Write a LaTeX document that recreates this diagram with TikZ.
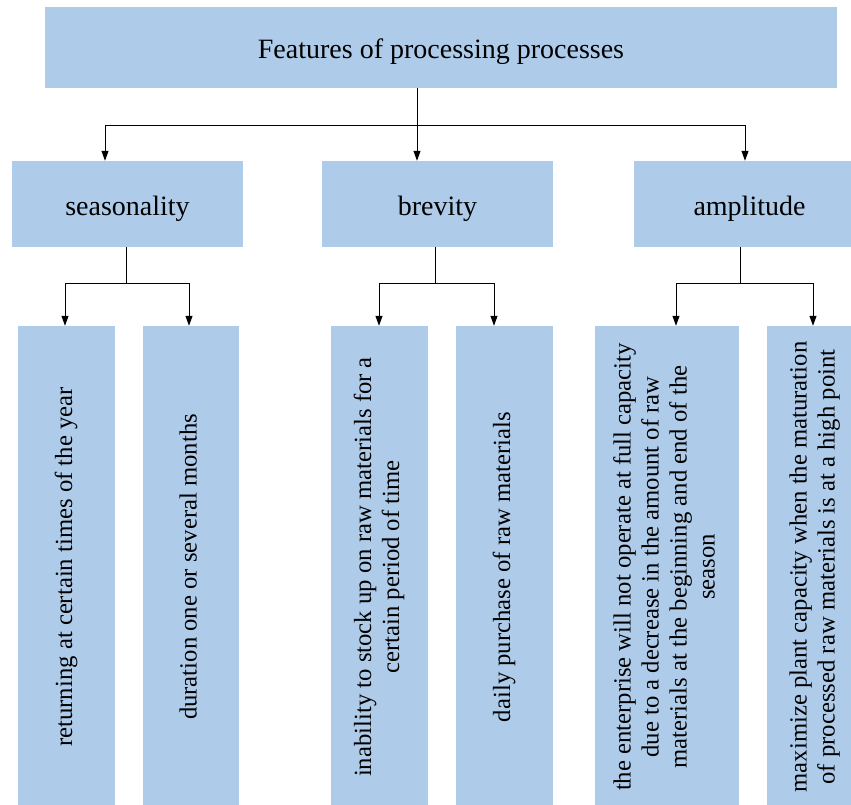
\documentclass[tikz,border=0pt]{standalone}
\usepackage{fontspec}
\usepackage{graphicx}
\setmainfont{LiberationSerif}[Extension=.ttf, UprightFont=*-Regular, BoldFont=*-Bold]
\usetikzlibrary{arrows.meta,calc}
\definecolor{boxblue}{RGB}{174,204,234}
\newcommand{\uptext}[1]{\rotatebox{90}{\begin{tabular}{@{}c@{}}#1\end{tabular}}}

\begin{document}
\begin{tikzpicture}[x=1pt, y=-1pt, >={Triangle[width=7pt,length=10pt]},
    box/.style={fill=boxblue, inner sep=0pt, text height=22pt, text depth=0pt, font=\fontsize{28}{32}\selectfont},
    leaf/.style={fill=boxblue, inner sep=0pt, minimum height=482pt, font=\fontsize{24.7}{28}\selectfont},
    link/.style={line width=1pt, black}]
    \useasboundingbox (0,0) rectangle (851,805);
    \clip (0,0) rectangle (851,805);

    % Main box
    \node[box, minimum width=792pt, minimum height=81pt] (top) at (441,47.5) {Features of processing processes};

    % Feature boxes
    \node[box, minimum width=231pt, minimum height=86pt] (seas) at (127.5,204) {seasonality};
    \node[box, minimum width=231pt, minimum height=86pt] (brev) at (437.5,204) {brevity};
    \node[box, minimum width=231pt, minimum height=86pt] (ampl) at (749.5,204) {amplitude};

    % Detail boxes
    \node[leaf, minimum width=97pt] (l1) at (66.5,567) {\uptext{returning at certain times of the year}};
    \node[leaf, minimum width=96pt] (l2) at (191,567) {\uptext{duration one or several months}};
    \node[leaf, minimum width=97pt] (l3) at (379.5,567) {\uptext{inability to stock up on raw materials for a\\certain period of time}};
    \node[leaf, minimum width=97pt] (l4) at (504.5,567) {\uptext{daily purchase of raw materials}};
    \node[leaf, minimum width=144pt] (l5) at (667,567) {\uptext{the enterprise will not operate at full capacity\\due to a decrease in the amount of raw\\materials at the beginning and end of the\\season}};
    \node[leaf, minimum width=96pt] (l6) at (815,567) {\uptext{maximize plant capacity when the maturation\\of processed raw materials is at a high point}};

    % Top level connectors
    \coordinate (hub) at (417,126);
    \draw[link] (top.south -| hub) -- (hub);
    \draw[link, ->] (hub) -- (hub |- brev.north);
    \draw[link, ->] (hub) -| ([xshift=-22.5pt]seas.north);
    \draw[link, ->] (hub) -| ([xshift=-4.5pt]ampl.north);

    % Second level connectors
    \coordinate (sj) at (126,283);
    \draw[link] (seas.south -| sj) -- (sj);
    \draw[link, ->] (sj) -| ([xshift=-1.5pt]l1.north);
    \draw[link, ->] (sj) -| ([xshift=-2pt]l2.north);

    \coordinate (bj) at (435,283);
    \draw[link] (brev.south -| bj) -- (bj);
    \draw[link, ->] (bj) -| ([xshift=-0.5pt]l3.north);
    \draw[link, ->] (bj) -| ([xshift=-10.5pt]l4.north);

    \coordinate (aj) at (740,283);
    \draw[link] (ampl.south -| aj) -- (aj);
    \draw[link, ->] (aj) -| ([xshift=9pt]l5.north);
    \draw[link, ->] (aj) -| ([xshift=-2pt]l6.north);
\end{tikzpicture}
\end{document}
